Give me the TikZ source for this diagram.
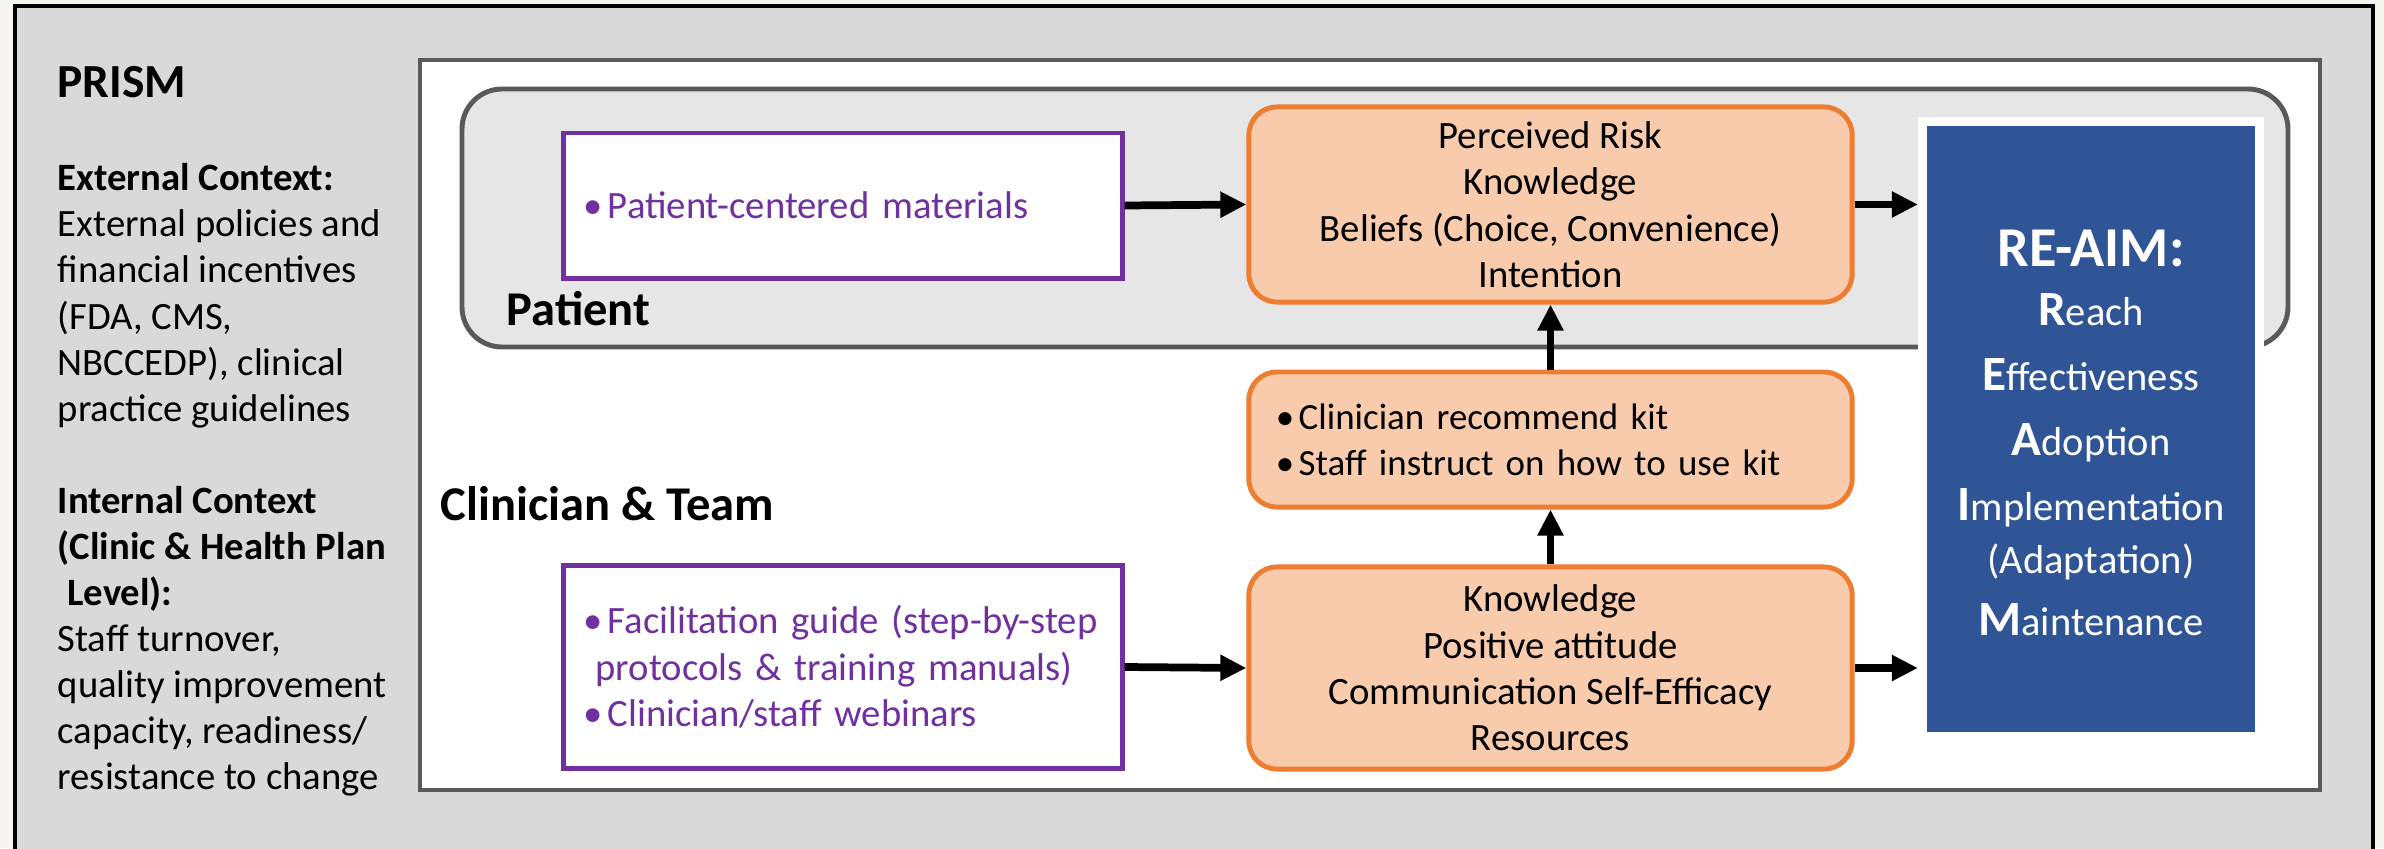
\documentclass[tikz,border=0pt]{standalone}
\usepackage{fontspec}
\setmainfont{Carlito}
\usetikzlibrary{arrows.meta}
\definecolor{PageWhite}{HTML}{F5F4EF}
\definecolor{PrismGray}{HTML}{D9D9D9}
\definecolor{FrameGray}{HTML}{595959}
\definecolor{PatientGray}{HTML}{E7E6E6}
\definecolor{FactorFill}{HTML}{F8CBAD}
\definecolor{FactorLine}{HTML}{ED7D31}
\definecolor{ToolPurple}{HTML}{7030A0}
\definecolor{ReAimBlue}{HTML}{2F5597}
\newcommand{\AimLetter}[1]{{\fontsize{14}{18.5}\selectfont\bfseries #1}}
\newcommand{\ItemDot}{\makebox[0.62em][l]{\textbullet}}

\begin{document}
\begin{tikzpicture}[x=0.01cm,y=-0.01cm,
    tool/.style={draw=ToolPurple,line width=1.4pt,fill=white,text=ToolPurple,align=left,
      text width=5.18cm,inner xsep=0.2cm,font=\fontsize{11}{13.2}\selectfont},
    factor/.style={draw=FactorLine,line width=1.4pt,fill=FactorFill,rounded corners=8pt,
      minimum width=6.03cm,align=center,font=\fontsize{11}{13.2}\selectfont},
    heading/.style={font=\fontsize{13.8}{16}\selectfont\bfseries,anchor=base west,inner sep=0},
    flow/.style={-{Triangle[length=7.4pt,width=7pt]},line width=2.2pt}]
        \useasboundingbox (0,0) rectangle (2384,848);
        \fill[PageWhite] (0,0) rectangle (2384,848);
        \draw[line width=1.4pt,fill=PrismGray] (15,6) rectangle (2373,870);
        \draw[FrameGray,line width=1.4pt,fill=white] (420,60) rectangle (2320,790);
        \draw[FrameGray,line width=1.4pt,fill=PatientGray,rounded corners=0.4cm] (462,89) rectangle (2288,347);

        \node[heading,font=\fontsize{13.5}{16}\selectfont\bfseries] (prism) at (57,97) {PRISM};
        \node[anchor=north west,inner sep=0,align=left,font=\fontsize{11}{13.1}\selectfont] (context) at (57,163)
          {\textbf{External Context:}\\External policies and\\financial incentives\\(FDA, CMS,\\NBCCEDP), clinical\\practice guidelines\\[13.1pt]
           \textbf{Internal Context}\\\textbf{(Clinic \& Health Plan}\\\hspace*{0.25em}\textbf{Level):}\\Staff turnover,\\quality improvement\\capacity, readiness/\\resistance to change};
        \node[heading] (patient) at (506,325) {Patient};
        \node[heading] (team) at (440,520) {Clinician \& Team};

        \node[tool,minimum height=1.45cm] (patmat) at (843,205.5) {\ItemDot Patient-centered materials};
        \node[tool,minimum height=2.02cm] (guide) at (843,667)
          {\ItemDot Facilitation guide (step-by-step\\\hspace*{0.3em}protocols \& training manuals)\\\ItemDot Clinician/staff webinars};

        \node[factor,minimum height=1.95cm] (beliefs) at (1550.5,204.5)
          {Perceived Risk\\Knowledge\\Beliefs (Choice, Convenience)\\Intention};
        \node[factor,minimum height=1.35cm,align=left,text width=5.49cm,inner xsep=0.27cm,
          font=\fontsize{10.5}{13.1}\selectfont] (recommend) at (1550.5,439.5)
          {\ItemDot Clinician recommend kit\\\ItemDot Staff instruct on how to use kit};
        \node[factor,minimum height=2.02cm] (attitude) at (1550.5,668)
          {Knowledge\\Positive attitude\\Communication Self-Efficacy\\Resources};

        \node[draw=white,line width=2.56pt,fill=ReAimBlue,minimum width=3.37cm,minimum height=6.15cm] (reaim) at (2091,429) {};
        \node[text=white,align=center,font=\fontsize{11.5}{18.5}\selectfont] (reaimtext) at (2091,433)
          {{\fontsize{16}{18.5}\selectfont\bfseries RE-AIM:}\\[-1.7pt]\AimLetter{R}each\\\AimLetter{E}ffectiveness\\\AimLetter{A}doption\\
           \AimLetter{I}mplementation\\[-3.4pt](Adaptation)\\[-0.9pt]\AimLetter{M}aintenance};

        \draw[flow] (patmat.east) -- (beliefs.west);
        \draw[flow] (beliefs.east) -- (beliefs.east -| reaim.west);
        \draw[flow] (guide.east) -- (attitude.west);
        \draw[flow] (attitude.east) -- (attitude.east -| reaim.west);
        \draw[flow] (attitude.north) -- (recommend.south);
        \draw[flow] (recommend.north) -- (beliefs.south);
\end{tikzpicture}
\end{document}
